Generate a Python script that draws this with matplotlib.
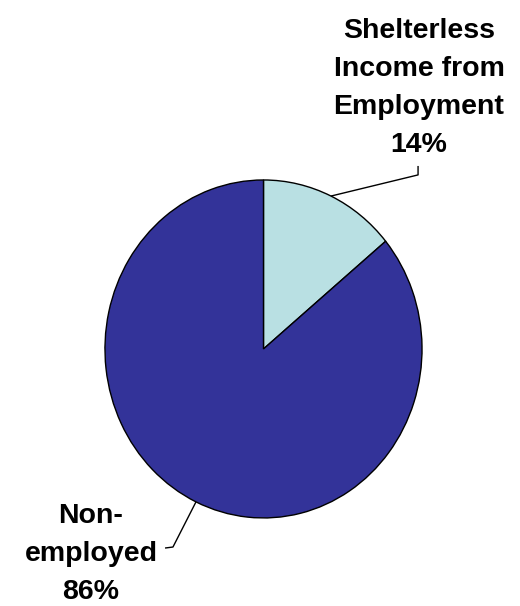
import numpy as np
import matplotlib
matplotlib.use("Agg")
import matplotlib.pyplot as plt

# Share of shelterless people by source of income
categories = ["Shelterless\nIncome from\nEmployment", "Non-\nemployed"]
shares = [14, 86]
colors = ["#B9E0E3", "#333399"]

plt.rcParams["font.family"] = ["Liberation Sans", "DejaVu Sans"]

fig = plt.figure(figsize=(5.2, 6.06), dpi=100)
ax = fig.add_axes([0, 0, 1, 1])

wedges, _ = ax.pie(shares, colors=colors, startangle=90, counterclock=False,
                   wedgeprops=dict(edgecolor="black", linewidth=1.0))

# slightly taller than wide, as in the original layout
ax.set_aspect("auto")
ax.set_xlim(-1.662, 1.618)
ax.set_ylim(-1.521, 2.065)
ax.axis("off")

# label placement: (last-line baseline anchor, elbow, end of leader near the text)
layout = [
    dict(text=(0.981, 1.166), elbow=(0.975, 1.030), end=(0.975, 1.083)),
    dict(text=(-1.088, -1.482), elbow=(-0.571, -1.172), end=(-0.621, -1.178)),
]

for w, cat, val, lay in zip(wedges, categories, shares, layout):
    mid = np.deg2rad((w.theta1 + w.theta2) / 2)
    edge = (np.cos(mid), np.sin(mid))
    xs = [edge[0], lay["elbow"][0], lay["end"][0]]
    ys = [edge[1], lay["elbow"][1], lay["end"][1]]
    ax.plot(xs, ys, color="black", linewidth=1.0, solid_capstyle="butt")
    ax.text(lay["text"][0], lay["text"][1], f"{cat}\n{val}%",
            ha="center", va="baseline", fontsize=20.5, fontweight="bold",
            linespacing=1.6, color="black", multialignment="center")

fig.savefig("out.png", dpi=100)
